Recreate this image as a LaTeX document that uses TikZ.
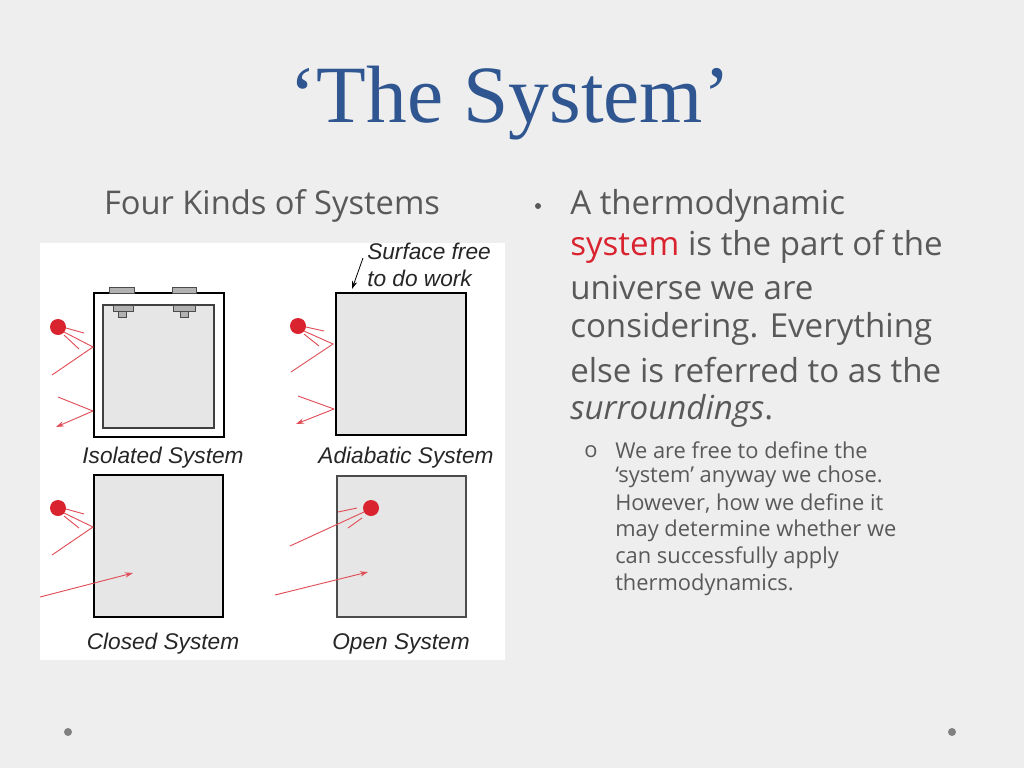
\documentclass[tikz,border=0pt]{standalone}
\usepackage{fontspec}
\setmainfont{Open Sans}
\newfontfamily\arialf{Liberation Sans}
\newfontfamily\titlef{Liberation Serif}
\usetikzlibrary{arrows.meta}
\definecolor{bg}{HTML}{EEEEEE}
\definecolor{boxfill}{HTML}{E6E6E6}
\definecolor{rd}{HTML}{D9232E}
\definecolor{txt}{HTML}{595959}
\definecolor{ttl}{HTML}{2F5690}
\tikzset{
 ray/.style={rd!80, line width=0.7pt},
 rarr/.style={ray, -{Stealth[length=6pt,width=4pt]}},
 dotc/.style={circle, fill=rd, inner sep=0pt, minimum size=12pt},
 lbl/.style={font=\arialf\itshape\fontsize{17}{20}\selectfont, text=black!85},
 body/.style={anchor=west, font=\fontsize{24.8}{29}\selectfont, text=txt, inner sep=0pt},
 sub/.style={anchor=west, font=\fontsize{16.4}{19}\selectfont, text=txt, inner sep=0pt},
 bolt/.style={fill=gray!60, draw=black!70, line width=0.4pt}
}
\begin{document}
\begin{tikzpicture}[x=0.75pt,y=-0.75pt]
\useasboundingbox (0,0) rectangle (1024,768);
\fill[bg] (0,0) rectangle (1024,768);
\fill[white] (40,243) rectangle (505,660);
\node[font=\titlef\fontsize{61}{64}\selectfont, text=ttl] (title) at (510,103) {‘The System’};
\node[font=\fontsize{24.5}{28}\selectfont, text=txt] (four) at (272,206) {Four Kinds of Systems};
\fill[txt] (538,206) circle (3);
\node[body] (l1) at (570,206) {A thermodynamic};
\node[body] (l2) at (570,247) {\textcolor{rd}{system} is the part of the};
\node[body] (l3) at (570,288) {universe we are};
\node[body] (l4) at (570,329) {considering. Everything};
\node[body] (l5) at (570,370) {else is referred to as the};
\node[body] (l6) at (570,411) {\textit{surroundings}.};
\node[sub] (o1) at (584,452) {o};
\node[sub] (s1) at (615,450) {We are free to define the};
\node[sub] (s2) at (615,477) {‘system’ anyway we chose.};
\node[sub] (s3) at (615,504) {However, how we define it};
\node[sub] (s4) at (615,531) {may determine whether we};
\node[sub] (s5) at (615,558) {can successfully apply};
\node[sub] (s6) at (615,585) {thermodynamics.};
\fill[gray] (68,732) circle (4);
\fill[gray] (952,732) circle (4);
% Isolated
\draw[line width=2.2pt, fill=white] (94,293) rectangle (224,437);
\draw[line width=1.1pt, draw=black!75, fill=boxfill] (103,305) rectangle (214,428);
\draw[bolt] (109,287) rectangle (134,293);
\draw[bolt] (172,287) rectangle (196,293);
\draw[bolt] (113,305) rectangle (133,311);
\draw[bolt] (118,311) rectangle (126,317);
\draw[bolt] (173,305) rectangle (195,311);
\draw[bolt] (180,311) rectangle (188,317);
\node[dotc] (d1) at (58,327) {};
\draw[ray] (66,328) -- (84,333);
\draw[ray] (64,335) -- (79,349);
\draw[ray] (64,332) -- (93,347) -- (52,375);
\draw[ray] (58,397) -- (93,411);
\draw[rarr] (93,411) -- (56,427);
% Adiabatic
\draw[line width=2.2pt, fill=boxfill] (336,293) rectangle (466,435);
\node[dotc] (d2) at (298,326) {};
\draw[ray] (306,327) -- (324,331);
\draw[ray] (304,334) -- (319,346);
\draw[ray] (304,331) -- (333,344) -- (291,372);
\draw[ray] (298,396) -- (334,409);
\draw[rarr] (334,409) -- (296,424);
\node[lbl, align=left, anchor=north west, inner sep=0pt] (surf) at (367,243) {Surface free\\to do work};
\draw[-{Stealth[length=6pt,width=4pt]}, line width=0.6pt] (363,258) -- (352,289);
% Closed
\draw[line width=2.2pt, fill=boxfill] (94,475) rectangle (223,617);
\node[dotc] (d3) at (58,508) {};
\draw[ray] (66,509) -- (84,514);
\draw[ray] (64,516) -- (79,528);
\draw[ray] (64,513) -- (93,527) -- (52,555);
\draw[rarr] (40,597) -- (133,573);
% Open
\draw[line width=0.9pt, draw=black!70, fill=boxfill] (337,476) rectangle (466,617);
\node[dotc] (d4) at (371,508) {};
\draw[ray] (357,508) -- (338,512);
\draw[ray] (362,518) -- (348,528);
\draw[ray] (290,546) -- (364,512);
\draw[rarr] (275,595) -- (368,572);
% labels
\node[lbl] (li) at (163,458) {Isolated System};
\node[lbl] (la) at (406,458) {Adiabatic System};
\node[lbl] (lc) at (163,644) {Closed System};
\node[lbl] (lo) at (401,644) {Open System};
\end{tikzpicture}
\end{document}
